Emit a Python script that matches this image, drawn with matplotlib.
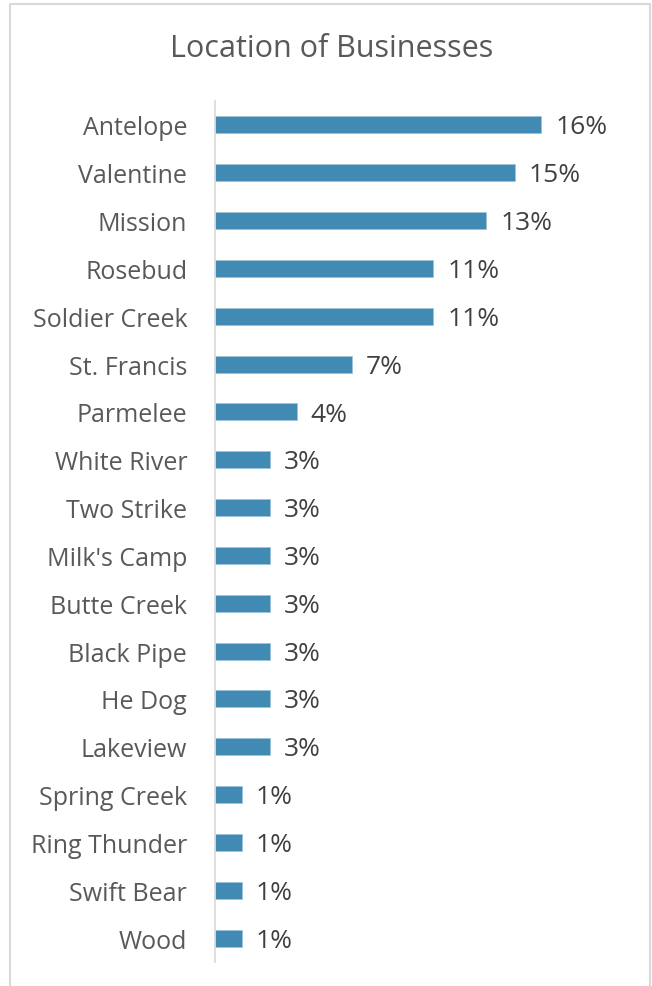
import matplotlib
matplotlib.use("Agg")
import matplotlib.pyplot as plt
from matplotlib.lines import Line2D

categories = ["Antelope", "Valentine", "Mission", "Rosebud", "Soldier Creek",
              "St. Francis", "Parmelee", "White River", "Two Strike", "Milk's Camp",
              "Butte Creek", "Black Pipe", "He Dog", "Lakeview", "Spring Creek",
              "Ring Thunder", "Swift Bear", "Wood"]
shares = [16.0, 14.7, 13.3, 10.7, 10.7, 6.7, 4.0, 2.7, 2.7, 2.7,
          2.7, 2.7, 2.7, 2.7, 1.3, 1.3, 1.3, 1.3]
value_labels = ["16%", "15%", "13%", "11%", "11%", "7%", "4%", "3%", "3%", "3%",
                "3%", "3%", "3%", "3%", "1%", "1%", "1%", "1%"]
title = "Location of Businesses"

W, H = 652, 987
fig = plt.figure(figsize=(W / 100, H / 100), dpi=100)
fig.patch.set_facecolor("white")

# outer chart border (left, top, right only)
bx0, bx1, by0 = 10 / W, 650 / W, 1 - 5 / H
fig.lines.append(Line2D([bx0, bx0, bx1, bx1], [0, by0, by0, 0],
                        transform=fig.transFigure, color="#D9D9D9", linewidth=1.5))

left, right, top, bottom = 215, 630, 102, 963
ax = fig.add_axes([left / W, 1 - bottom / H, (right - left) / W, (bottom - top) / H])

n = len(categories)
y = list(range(n))
ax.barh(y, shares, height=0.355, color="#418AB3", edgecolor="#9CC3DA", linewidth=0.6)
ax.set_ylim(n - 0.5, -0.5)
ax.set_xlim(0, (right - left) / 20.4)

ax.set_yticks(y)
ax.set_yticklabels(categories, fontsize=18, color="#595959", family="Open Sans")
ax.tick_params(axis="y", length=0, pad=20)
ax.set_xticks([])
for s in ["top", "right", "bottom"]:
    ax.spines[s].set_visible(False)
ax.spines["left"].set_color("#D9D9D9")
ax.spines["left"].set_linewidth(1.2)

for yi, v, lab in zip(y, shares, value_labels):
    ax.annotate(lab, (v, yi), xytext=(10, -1.5), textcoords="offset points",
                va="center", ha="left", fontsize=19, color="#404040",
                family="Open Sans")

fig.text(332 / W, 1 - 49 / H, title, ha="center", va="center",
         fontsize=22, color="#595959", family="Open Sans")

fig.savefig("out.png", dpi=100)
